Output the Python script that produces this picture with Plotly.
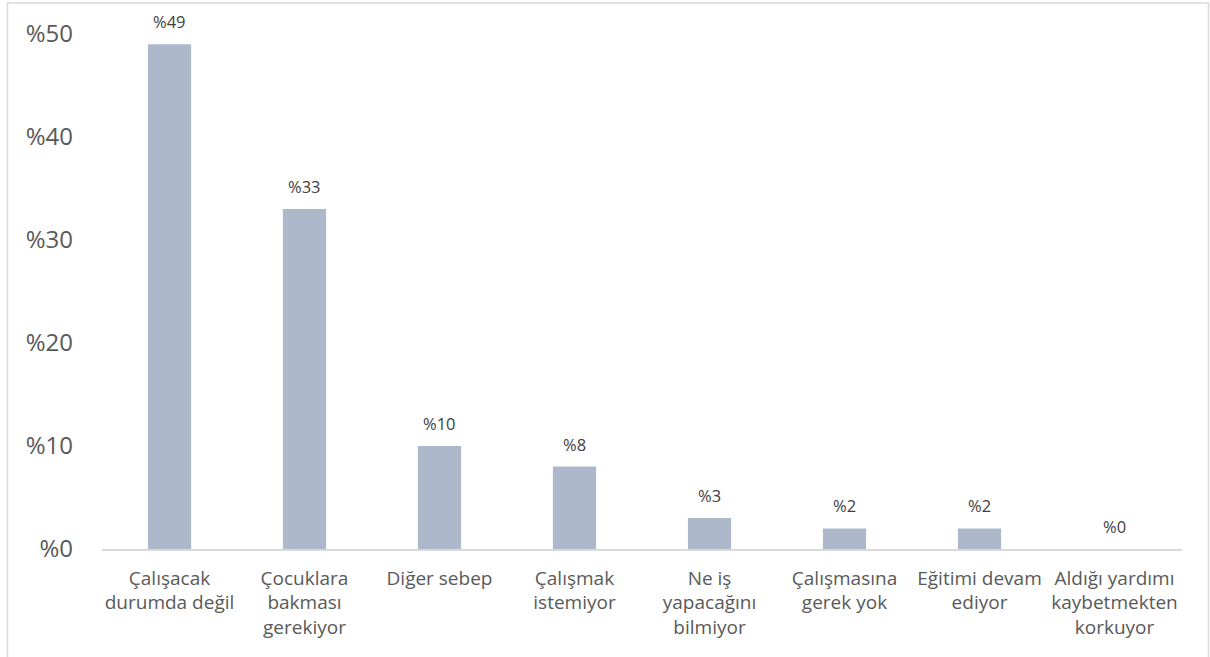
import plotly.graph_objects as go

categories = [
    "Çalışacak<br>durumda değil",
    "Çocuklara<br>bakması<br>gerekiyor",
    "Diğer sebep",
    "Çalışmak<br>istemiyor",
    "Ne iş<br>yapacağını<br>bilmiyor",
    "Çalışmasına<br>gerek yok",
    "Eğitimi devam<br>ediyor",
    "Aldığı yardımı<br>kaybetmekten<br>korkuyor",
]
values = [49, 33, 10, 8, 3, 2, 2, 0]
y_ticks = [0, 10, 20, 30, 40, 50]
y_tick_labels = ["%" + str(v) for v in y_ticks]
bar_labels = ["%" + str(v) for v in values]

FONT = "Open Sans, DejaVu Sans, sans-serif"

fig = go.Figure(
    go.Bar(
        x=categories,
        y=values,
        marker=dict(color="#ADB9CA", line=dict(width=0)),
        width=0.32,
        hoverinfo="skip",
    )
)

for cat, val, lab in zip(categories, values, bar_labels):
    fig.add_annotation(
        x=cat,
        y=val,
        text=lab,
        showarrow=False,
        yanchor="bottom",
        yshift=9,
        font=dict(family=FONT, size=16.5, color="#404040"),
    )

fig.update_layout(
    width=1210,
    height=657,
    margin=dict(l=102, r=28, t=34, b=108),
    paper_bgcolor="white",
    plot_bgcolor="white",
    showlegend=False,
    font=dict(family=FONT, color="#595959"),
    xaxis=dict(
        showgrid=False,
        showline=True,
        linecolor="#D9D9D9",
        linewidth=1.5,
        ticks="",
        tickfont=dict(size=19, color="#595959"),
        ticklabelstandoff=11,
        tickangle=0,
    ),
    yaxis=dict(
        range=[0, 50],
        tickvals=y_ticks,
        ticktext=y_tick_labels,
        showgrid=False,
        zeroline=False,
        showline=False,
        ticks="",
        tickfont=dict(size=24, color="#595959"),
        ticklabelstandoff=28,
    ),
    shapes=[
        dict(
            type="rect",
            xref="paper",
            yref="paper",
            x0=-0.0875,
            x1=1.0245,
            y0=-0.3,
            y1=1.060,
            line=dict(color="#D9D9D9", width=1.5),
            fillcolor="rgba(0,0,0,0)",
            layer="below",
        )
    ],
)

fig.write_html(
    "out.html",
    config={"displayModeBar": False},
    post_script="document.body.style.margin='0';document.body.style.padding='0';",
)
